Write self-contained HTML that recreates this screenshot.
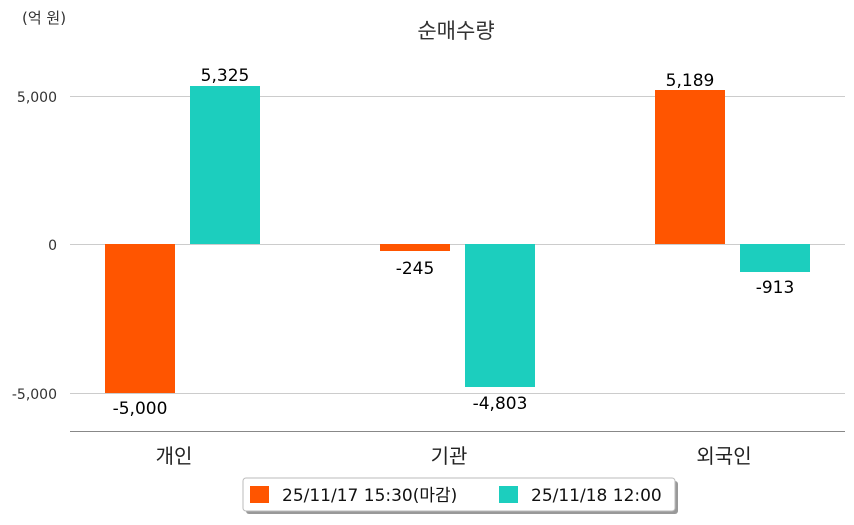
<!DOCTYPE html>
<html><head><meta charset="utf-8"><style>
body{margin:0;background:#fff;}
svg text{font-family:"DejaVu Sans","Noto Sans CJK KR",sans-serif;}
</style></head><body>
<svg width="854" height="520" xmlns="http://www.w3.org/2000/svg">
<text x="22" y="23" font-size="15" fill="#333">(억 원)</text>
<text x="456" y="38" font-size="21" fill="#333" text-anchor="middle">순매수량</text>
<g stroke="#cccccc" stroke-width="1">
<line x1="70" y1="96.5" x2="845" y2="96.5"/>
<line x1="70" y1="244.5" x2="845" y2="244.5"/>
<line x1="70" y1="393.5" x2="845" y2="393.5"/>
</g>
<line x1="70" y1="431.5" x2="845" y2="431.5" stroke="#888" stroke-width="1"/>
<g font-size="14" fill="#333" text-anchor="end">
<text x="57" y="102">5,000</text>
<text x="57" y="250">0</text>
<text x="57" y="399">-5,000</text>
</g>
<g fill="#ff5500">
<rect x="105" y="244" width="70" height="149"/>
<rect x="380" y="244" width="70" height="7"/>
<rect x="655" y="90" width="70" height="154"/>
</g>
<g fill="#1ccebe">
<rect x="190" y="86" width="70" height="158"/>
<rect x="465" y="244" width="70" height="143"/>
<rect x="740" y="244" width="70" height="28"/>
</g>
<g font-size="17" fill="#000" text-anchor="middle">
<text x="140" y="414">-5,000</text>
<text x="225" y="81">5,325</text>
<text x="415" y="274">-245</text>
<text x="500" y="409">-4,803</text>
<text x="690" y="86">5,189</text>
<text x="775" y="293">-913</text>
</g>
<g font-size="20" fill="#222" text-anchor="middle">
<text x="174" y="463">개인</text>
<text x="449" y="463">기관</text>
<text x="724" y="463">외국인</text>
</g>
<rect x="246" y="481" width="432" height="33" fill="#999" rx="3"/>
<rect x="243" y="478" width="432" height="33" fill="#fff" stroke="#bbb" rx="3"/>
<rect x="250" y="486" width="19" height="17" fill="#ff5500"/>
<rect x="499" y="486" width="19" height="17" fill="#1ccebe"/>
<g font-size="17" fill="#111">
<text x="282" y="501">25/11/17 15:30(마감)</text>
<text x="531" y="501">25/11/18 12:00</text>
</g>
</svg>
</body></html>
